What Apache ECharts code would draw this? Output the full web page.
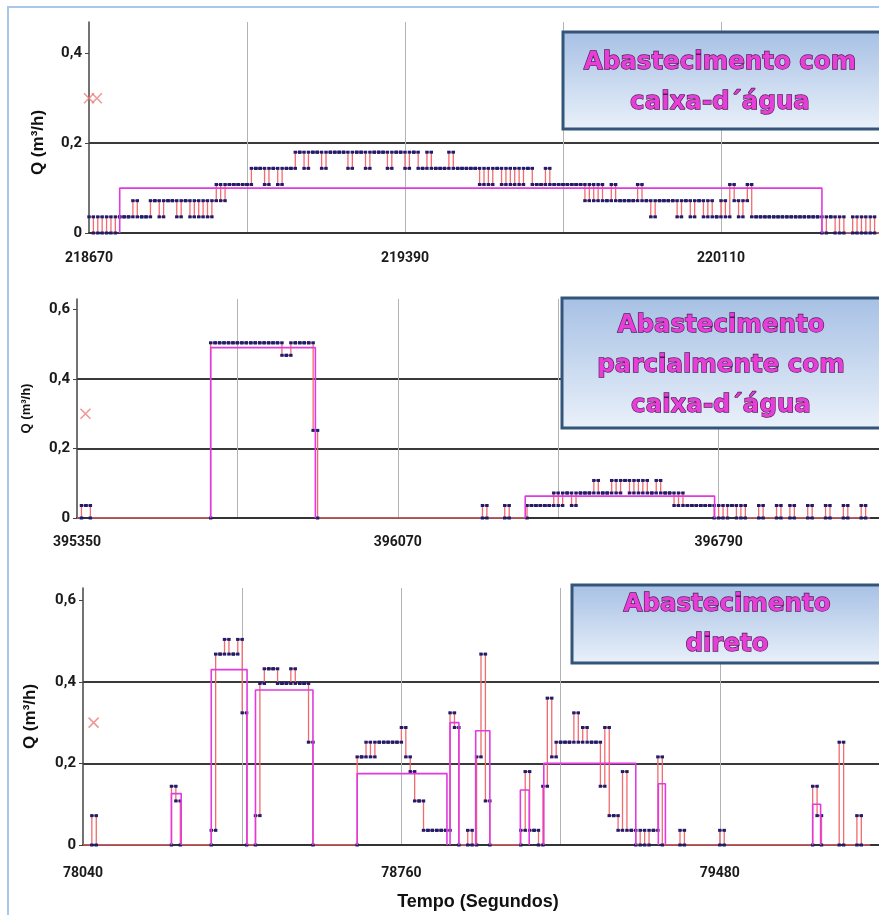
<!DOCTYPE html>
<html>
<head>
<meta charset="utf-8">
<script src="https://cdn.jsdelivr.net/npm/echarts@6/dist/echarts.min.js"></script>
<style>
html,body{margin:0;padding:0;background:#fff;}
#chart{width:879px;height:915px;}
</style>
</head>
<body>
<div id="chart"></div>
<script>
// ---------- data ----------
const sampleSeconds = 10;
const xSpan = 1800;
const xGridStep = 360;

// Panel 1: Abastecimento com caixa-d'água
const p1Start = 218670;
const p1Labels = [218670, 219390, 220110];
const p1Values = [
  0.036,0,0.036,0,0.036,0,0.036,
  0.036,0.036,0.036,
  0.072,
  0.036,0.036,0.036,
  0.072,0.072,0.036,0.072,0.072,0.072,0.036,0.072,0.072,0.036,0.072,0.036,0.072,0.036,0.072,
  0.108,0.072,0.108,0.108,0.108,0.108,0.108,0.108,
  0.144,0.144,0.144,0.108,0.144,0.144,0.108,0.144,0.144,0.144,
  0.18,0.18,0.144,0.18,0.18,0.18,0.144,0.18,0.18,0.18,0.18,0.18,0.144,0.18,
  0.18,0.18,0.144,0.18,0.18,0.18,0.18,0.144,0.18,0.18,0.18,0.144,0.18,0.18,
  0.144,0.144,0.18,0.144,0.144,0.144,0.144,0.18,0.144,0.144,0.144,0.144,0.144,0.144,
  0.108,0.144,0.108,0.144,0.144,0.108,0.144,0.108,0.144,0.108,0.144,0.144,0.108,0.108,0.108,0.144,
  0.108,0.108,0.108,0.108,0.108,0.108,0.108,0.108,
  0.072,0.108,0.072,0.108,0.072,0.072,0.108,0.072,0.072,
  0.072,0.072,0.072,0.108,0.072,0.072,
  0.036,0.072,0.072,0.072,0.072,0.072,0.036,0.072,0.072,0.036,0.072,0.072,
  0.036,0.072,0.036,0.036,0.072,0.036,0.108,0.072,0.036,0.072,0.108,0.036,
  0.036,0.036,0.036,0.036,0.036,0.036,0.036,0.036,0.036,0.036,0.036,0.036,0.036,0.036,0.036,
  0,0.036,0.036,0,0.036,0,0,0.036,0,0.036,0,0.036,0
];
const p1AvgStart = [218740];
const p1AvgEnd   = [220340];
const p1AvgLevel = [0.1];
const p1MarkTimes = [218670, 218688];

// Panel 2: Abastecimento parcialmente com caixa-d'água
const p2Start = 395350;
const p2Labels = [395350, 396070, 396790];
const p2Values = [
  0,0.036,0.036,
  0,0,0,0,0,0,0,0,0,0,0,0,0,0,0,0,0,0,0,0,0,0,0,0,0,0,0,
  0.504,0.504,0.504,0.504,0.504,0.504,0.504,0.504,0.504,0.504,0.504,0.504,0.504,0.504,0.504,0.504,
  0.468,0.468,
  0.504,0.504,0.504,0.504,0.504,
  0.252,
  0,0,0,0,0,0,0,0,0,0,0,0,0,0,0,0,0,0,0,0,0,0,0,0,0,0,0,0,0,0,0,0,0,0,0,0,0,
  0.036,0,0,0,0,0.036,0,0,0,0,
  0.036,0.036,0.036,0.036,0.036,0.036,
  0.072,0.036,0.072,0.072,0.036,0.072,0.072,0.072,0.072,
  0.108,0.072,0.072,0.072,0.108,0.072,0.108,0.108,0.072,0.108,0.072,0.108,0.072,0.072,0.108,0.072,0.072,0.072,
  0.036,0.072,
  0.036,0.036,0.036,0.036,0.036,0.036,0.036,
  0,0.036,0,0.036,0.036,0,0.036,0,0,0,
  0.036,0,0,0,0.036,0,0,0.036,0,0,0,0.036,0,0,0,0.036,0,0,0,0.036,0,0,0,0.036,0
];
const p2AvgStart = [395650, 396356];
const p2AvgEnd   = [395885, 396781];
const p2AvgLevel = [0.49, 0.063];
const p2MarkTimes = [395369];

// Panel 3: Abastecimento direto
const p3Start = 78040;
const p3Labels = [78040, 78760, 79480];
const p3Values = [
  0,0,0.072,
  0,0,0,0,0,0,0,0,0,0,0,0,0,0,0,0,0,
  0.144,0.108,
  0,0,0,0,0,0,0,
  0.036,0.468,0.468,0.504,0.468,0.468,0.504,0.324,
  0,0,
  0.072,0.396,0.432,0.432,0.432,0.396,0.396,0.396,0.432,0.396,0.396,0.396,0.252,
  0,0,0,0,0,0,0,0,0,0,
  0.216,0.216,0.252,0.216,0.252,0.252,0.252,0.252,0.252,0.252,0.288,0.216,0.18,0.108,0.108,
  0.036,0.036,0.036,0.036,0.036,0.036,
  0.324,0.288,0,0,0.036,0,0.216,0.468,0.108,
  0,0,0,0,0,0,0,
  0.036,0.18,0.036,0.036,0,0.144,0.36,0.216,
  0.252,0.252,0.252,0.252,0.324,0.252,0.288,0.252,0.252,0.252,
  0.144,0.288,0.072,0.072,0.036,0.18,0.036,0.036,
  0,0.036,0,0.036,0.036,0.216,
  0,0,0,0,0.036,
  0,0,0,0,0,0,0,0,
  0.036,
  0,0,0,0,0,0,0,0,0,0,0,0,0,0,0,0,0,0,0,0,
  0.144,0.072,
  0,0,0,0,
  0.252,
  0,0,0,
  0.072,0,0
];
const p3AvgStart = [78240, 78330, 78430, 78660, 78870, 78928, 79029, 79082, 79341, 79690];
const p3AvgEnd   = [78262, 78411, 78560, 78863, 78890, 78960, 79049, 79290, 79357, 79708];
const p3AvgLevel = [0.126, 0.43, 0.38, 0.175, 0.30, 0.28, 0.135, 0.2, 0.15, 0.1];
const p3MarkTimes = [78064];

const markLevel = 0.3;
const p1YTicks = [0, 0.2, 0.4];
const p23YTicks = [0, 0.2, 0.4, 0.6];

const boxTexts = [
  'Abastecimento com\ncaixa-d\u00b4água',
  'Abastecimento\nparcialmente com\ncaixa-d\u00b4água',
  'Abastecimento\ndireto'
];

// ---------- build ----------
const NARROW = "'Liberation Sans Narrow','Roboto',sans-serif";
const RED = '#f06a6e', NAVY = '#1d1d6e', MAGENTA = '#e03ae0';

function stepPoints(start, values) {
  const pts = [];
  values.forEach((v, i) => {
    const t0 = start + i * sampleSeconds, t1 = t0 + sampleSeconds;
    const prev = i > 0 ? values[i - 1] : 0;
    const next = i < values.length - 1 ? values[i + 1] : 0;
    pts.push({ value: [t0, v], symbol: (v !== 0 || prev !== 0) ? 'rect' : 'none' });
    pts.push({ value: [t1, v], symbol: (v !== 0 || next !== 0) ? 'rect' : 'none' });
  });
  return pts;
}

const panels = [
  { start: p1Start, labels: p1Labels, values: p1Values, avgS: p1AvgStart, avgE: p1AvgEnd, avgV: p1AvgLevel,
    marks: p1MarkTimes, yMax: 0.47, yTicks: p1YTicks,
    grid: { left: 89, top: 22, height: 211, right: -3 }, nameSize: 17, labelMargin: 18 },
  { start: p2Start, labels: p2Labels, values: p2Values, avgS: p2AvgStart, avgE: p2AvgEnd, avgV: p2AvgLevel,
    marks: p2MarkTimes, yMax: 0.63, yTicks: p23YTicks,
    grid: { left: 77, top: 299, height: 219, right: -10 }, nameSize: 13, labelMargin: 17 },
  { start: p3Start, labels: p3Labels, values: p3Values, avgS: p3AvgStart, avgE: p3AvgEnd, avgV: p3AvgLevel,
    marks: p3MarkTimes, yMax: 0.63, yTicks: p23YTicks,
    grid: { left: 83, top: 588, height: 257, right: -11 }, nameSize: 17, labelMargin: 21 }
];

const grids = [], xAxes = [], yAxes = [], series = [];
panels.forEach((p, k) => {
  grids.push(p.grid);
  const xa = {
    type: 'value', gridIndex: k, min: p.start, max: p.start + xSpan, interval: xGridStep,
    axisLine: { show: true, onZero: true, lineStyle: { color: '#333', width: 2 } },
    axisTick: { show: false },
    axisLabel: { customValues: p.labels, margin: p.labelMargin, fontFamily: NARROW, fontWeight: 'bold',
      fontSize: 14, color: '#1a1a1a', formatter: v => String(v) },
    splitLine: { show: true, showMinLine: false, lineStyle: { color: '#b3b3b3', width: 1 } }
  };
  if (k === 2) {
    Object.assign(xa, { name: 'Tempo (Segundos)', nameLocation: 'middle', nameGap: 48,
      nameTextStyle: { fontFamily: "'Liberation Sans',sans-serif", fontWeight: 'bold', fontSize: 18,
        color: '#111', padding: [0, 6, 0, 0] } });
  }
  xAxes.push(xa);
  yAxes.push({
    type: 'value', gridIndex: k, min: 0, max: p.yMax, interval: 0.2,
    name: 'Q (m³/h)', nameLocation: 'middle', nameGap: k === 1 ? 44 : (k === 0 ? 42 : 44),
    nameTextStyle: { fontFamily: "'Liberation Sans',sans-serif", fontWeight: 'bold', fontSize: p.nameSize,
      color: '#111', padding: k === 0 ? [0, 30, 0, 0] : [0, 0, 0, 0] },
    axisLine: { show: true, lineStyle: { color: '#444', width: 1.5 } },
    axisTick: { show: true, customValues: p.yTicks, length: 4, lineStyle: { color: '#444' } },
    axisLabel: { customValues: p.yTicks, margin: 7, fontFamily: NARROW, fontWeight: 'bold', fontSize: 15,
      color: '#1a1a1a', formatter: v => v === 0 ? '0' : v.toFixed(1).replace('.', ',') },
    splitLine: { show: true, showMaxLine: false, lineStyle: { color: '#3a3a3a', width: 2 } }
  });
  series.push({
    type: 'line', xAxisIndex: k, yAxisIndex: k, data: stepPoints(p.start, p.values),
    symbol: 'rect', symbolSize: [3.4, 3], showSymbol: true, showAllSymbol: true,
    lineStyle: { color: RED, width: 1.3 }, itemStyle: { color: NAVY }, z: 3, silent: true
  });
  p.avgS.forEach((s, j) => {
    const e = p.avgE[j], v = p.avgV[j];
    series.push({
      type: 'line', xAxisIndex: k, yAxisIndex: k, data: [[s, 0], [s, v], [e, v], [e, 0]],
      showSymbol: false, lineStyle: { color: MAGENTA, width: 1.6 }, z: 4, silent: true
    });
  });
  series.push({
    type: 'scatter', xAxisIndex: k, yAxisIndex: k, data: p.marks.map(t => [t, markLevel]),
    symbol: 'path://M0,0L10,10M10,0L0,10', symbolSize: 10,
    itemStyle: { color: 'rgba(0,0,0,0)', borderColor: '#ee7b7b', borderWidth: 1.5 }, z: 5, silent: true
  });
});

function box(x, y, w, h, text, cx, cy) {
  return [
    { type: 'rect', z: 100, shape: { x, y, width: w, height: h },
      style: { fill: new echarts.graphic.LinearGradient(0, 0, 0, 1, [
        { offset: 0, color: '#a6c0e4' }, { offset: 1, color: '#eaf1fa' }]),
        stroke: '#33557a', lineWidth: 3 } },
    { type: 'text', z: 101, x: cx, y: cy,
      style: { text, fill: '#e63ed6', stroke: '#4e1b55', lineWidth: 1.3,
        font: 'bold 24.5px "DejaVu Sans"', align: 'center', verticalAlign: 'middle', lineHeight: 40 } }
  ];
}

const graphics = [
  { type: 'rect', z: 0, shape: { x: 8, y: 7, width: 1000, height: 1000 },
    style: { fill: 'none', stroke: '#a9c6ee', lineWidth: 2 } },
  ...box(563, 32, 330, 97, boxTexts[0], 720, 83),
  ...box(562, 298, 330, 130, boxTexts[1], 721, 366),
  ...box(572, 585, 320, 78, boxTexts[2], 727, 625)
];

const chart = echarts.init(document.getElementById('chart'));
chart.setOption({
  animation: false,
  backgroundColor: '#ffffff',
  grid: grids, xAxis: xAxes, yAxis: yAxes, series, graphic: graphics
});
</script>
</body>
</html>
